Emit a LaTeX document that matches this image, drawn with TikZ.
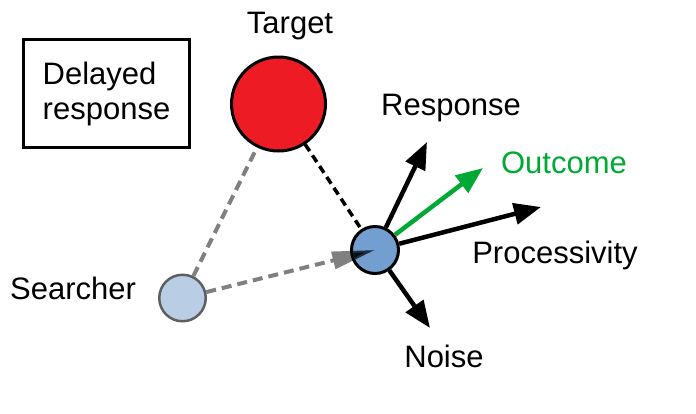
\documentclass[tikz,border=0pt]{standalone}
\usepackage{fontspec}
\setmainfont{Liberation Sans}
\usetikzlibrary{arrows.meta,backgrounds}
\definecolor{tred}{HTML}{ED1C24}
\definecolor{bblue}{HTML}{729FCF}
\definecolor{lblue}{HTML}{B9CDE5}
\definecolor{ogreen}{HTML}{00A933}
\definecolor{sgray}{HTML}{808080}
\definecolor{cgray}{HTML}{5F5F5F}
\tikzset{
  lbl/.style={font=\fontsize{31}{35}\selectfont, inner sep=0pt, anchor=base},
  vec/.style={line width=4.5pt, -{Triangle[length=27pt,width=21pt]}},
  graydash/.style={sgray, line width=4pt, dash pattern=on 10pt off 6pt},
  blackdash/.style={black, line width=3.5pt, dash pattern=on 8pt off 5pt},
}
\begin{document}
\begin{tikzpicture}[x=1pt,y=-1pt]
\useasboundingbox (0,0) rectangle (696,413);
% nodes
\node[circle, draw=black, line width=3pt, fill=tred, minimum size=94pt, inner sep=0pt] (t) at (278.5,104) {};
\node[circle, draw=black, line width=3pt, fill=bblue, minimum size=47pt, inner sep=0pt] (b) at (375,250) {};
\node[circle, draw=cgray, line width=2.5pt, fill=lblue, minimum size=46.5pt, inner sep=0pt] (s) at (182.5,298) {};
% box
\node[draw, line width=3pt, minimum width=166pt, minimum height=108pt, align=left, inner sep=0pt,
      font=\fontsize{31}{35}\selectfont] (d) at (106.5,93.5) {Delayed\\response};
% labels
\node[lbl] (tl) at (290,33) {Target};
\node[lbl] (rl) at (451,115) {Response};
\node[lbl, text=ogreen] (ol) at (564,173) {Outcome};
\node[lbl] (pl) at (555,263) {Processivity};
\node[lbl] (nl) at (444,367) {Noise};
\node[lbl] (sl) at (73,299) {Searcher};
% tips
\coordinate (rt) at (427,142);
\coordinate (ot) at (483,168);
\coordinate (pt) at (541,207);
\coordinate (nt) at (430,328);
% background connectors
\begin{scope}[on background layer]
  \draw[graydash] (s) -- (t);
  \draw[blackdash] (t) -- (b);
  \draw[graydash, -{Triangle[length=43pt,width=17pt]}] (s) -- (b.center);
\end{scope}
% dark part of the gray arrow tip over the blue node
\begin{scope}
  \clip (b.center) circle (22pt);
  \draw[black, opacity=0.7, line width=4pt, -{Triangle[length=43pt,width=17pt]}] (s) -- (b.center);
\end{scope}
% vectors
\draw[vec, black] (b) -- (rt);
\draw[vec, ogreen] (b) -- (ot);
\draw[vec, black] (b) -- (pt);
\draw[vec, black] (b) -- (nt);
\end{tikzpicture}
\end{document}
